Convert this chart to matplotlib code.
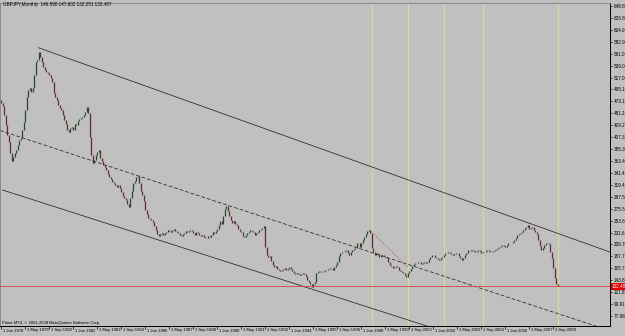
import matplotlib
matplotlib.use('Agg')
import matplotlib.pyplot as plt

plt.rcParams['font.family'] = ['Liberation Sans', 'DejaVu Sans']

#####################################################################
# GBPJPY monthly closes, Jan 1978 .. Dec 2008 (one row per year)
close = [
    470, 465, 448, 430, 411, 398, 378, 363, 371, 378, 384, 393,   # 1978
    402, 406, 420, 435, 457, 481, 494, 498, 490, 498, 522, 546,   # 1979
    549, 564, 555, 546, 536, 531, 527, 525, 522, 516, 509, 489,   # 1980
    481, 476, 466, 461, 457, 448, 439, 432, 420, 417, 424, 426,   # 1981
    420, 432, 430, 437, 441, 443, 444, 448, 454, 463, 452, 408,   # 1982
    375, 360, 365, 375, 380, 384, 369, 363, 356, 352, 347, 339,   # 1983
    334, 330, 325, 323, 319, 315, 319, 314, 306, 299, 295, 292,   # 1984
    284, 279, 295, 308, 323, 327, 334, 336, 323, 308, 301, 290,   # 1985
    273, 265, 258, 256, 255, 251, 243, 236, 229, 225, 229, 231,   # 1986
    227, 230, 233, 236, 234, 232, 236, 238, 235, 233, 230, 228,   # 1987
    226, 229, 231, 234, 232, 235, 237, 234, 230, 228, 232, 230,   # 1988
    227, 225, 228, 224, 221, 222, 226, 224, 228, 232, 230, 234,   # 1989
    238, 245, 252, 248, 262, 275, 280, 272, 262, 255, 250, 252,   # 1990
    248, 246, 238, 235, 232, 226, 224, 228, 230, 233, 236, 234,   # 1991
    232, 228, 230, 233, 236, 238, 240, 244, 205, 190, 186, 188,   # 1992
    180, 172, 168, 170, 165, 162, 160, 163, 165, 166, 162, 165,   # 1993
    168, 164, 160, 158, 156, 158, 155, 154, 156, 158, 155, 152,   # 1994
    145, 140, 136, 132, 137, 141, 157, 159, 161, 159, 159, 161,   # 1995
    163, 163, 164, 166, 166, 163, 168, 172, 177, 188, 194, 196,   # 1996
    196, 198, 200, 194, 190, 196, 200, 201, 203, 212, 212, 205,   # 1997
    212, 218, 223, 229, 234, 236, 231, 203, 196, 190, 194, 192,   # 1998
    187, 188, 190, 188, 187, 185, 177, 172, 170, 166, 168, 170,   # 1999
    168, 163, 161, 159, 157, 153, 150, 157, 161, 164, 170, 174,   # 2000
    176, 176, 177, 177, 174, 176, 177, 176, 177, 183, 187, 190,   # 2001
    190, 187, 185, 183, 181, 185, 187, 190, 194, 194, 196, 194,   # 2002
    192, 190, 192, 194, 194, 188, 185, 181, 185, 190, 194, 200,   # 2003
    200, 198, 200, 198, 196, 198, 200, 198, 194, 196, 196, 198,   # 2004
    200, 198, 196, 196, 198, 200, 201, 203, 205, 207, 209, 207,   # 2005
    205, 209, 212, 212, 212, 214, 218, 221, 227, 229, 231, 232,   # 2006
    236, 240, 242, 245, 238, 240, 242, 236, 232, 229, 218, 207,   # 2007
    200, 203, 209, 212, 212, 210, 196, 185, 166, 148, 137, 132.5, # 2008
]
first_open = 476
bid = 132.487

# time axis labels (month index from Jan 1978)
xtick_pos = [0, 16, 32, 48, 64, 80, 96, 112, 128, 144, 160, 176,
             192, 208, 224, 240, 256, 272, 288, 304, 320, 336, 352, 368]
xtick_labels = ['1 Jan 1978', '1 May 1979', '1 Sep 1980', '1 Jan 1982', '1 May 1983',
                '1 Sep 1984', '1 Jan 1986', '1 May 1987', '1 Sep 1988', '1 Jan 1990',
                '1 May 1991', '1 Sep 1992', '1 Jan 1994', '1 May 1995', '1 Sep 1996',
                '1 Jan 1998', '1 May 1999', '1 Sep 2000', '1 Jan 2002', '1 May 2003',
                '1 Sep 2004', '1 Jan 2006', '1 May 2007', '1 Sep 2008']

# price axis labels
ytick_vals = [648.840, 626.883, 604.926, 582.969, 561.012, 539.055, 517.098,
              495.141, 473.185, 451.228, 429.271, 407.314, 385.357, 363.400,
              341.443, 319.486, 297.529, 275.572, 253.615, 231.658, 209.702,
              187.745, 165.788, 143.831, 121.874, 99.917, 77.960]

# drawn objects: (month, price) anchors
upper_line = [(25, 572), (351, 250)]
mid_line = [(0, 419), (344, 107)]
low_line = [(1, 310), (228, 109)]
red_dots = [(246, 236), (271, 168)]
yellow_months = [247, 271, 295, 321, 371]

#####################################################################
BG = '#c0c0c0'
W, H = 625, 336
fig = plt.figure(figsize=(W / 100, H / 100), dpi=100, facecolor=BG)
ax = fig.add_axes([0, (H - 326) / H, 610 / W, 323 / H])
ax.set_facecolor(BG)
x_left, x_right = -0.667, 406
ax.set_xlim(x_left, x_right)
ax.set_ylim(59.5, 654.4)

# candles
opens = [first_open] + close[:-1]
for m, (o, c) in enumerate(zip(opens, close)):
    col = '#234a2a' if c >= o else '#5e2c2c'
    ax.vlines(m, min(o, c), max(o, c), colors=col, linewidth=0.9)

# yellow vertical lines
for m in yellow_months:
    ax.axvline(m, color='#dcd69c', linewidth=0.8, zorder=0)

# channel lines
def ray(pts, extend_left=False):
    (x0, y0), (x1, y1) = pts
    k = (y1 - y0) / (x1 - x0)
    xa = x_left if extend_left else x0
    return [xa, x_right], [y0 + k * (xa - x0), y0 + k * (x_right - x0)]

xs, ys = ray(upper_line)
ax.plot(xs, ys, color='#262626', linewidth=0.55)
xs, ys = ray(mid_line, extend_left=True)
ax.plot(xs, ys, color='#262626', linewidth=0.55, linestyle=(0, (5, 2.5)))
xs, ys = ray(low_line)
ax.plot(xs, ys, color='#262626', linewidth=0.55)
ax.plot([p[0] for p in red_dots], [p[1] for p in red_dots],
        color='#c04040', linewidth=0.6, linestyle=(0, (1, 1.5)))

# bid line
ax.axhline(bid, color='#d84040', linewidth=0.6)

# axes styling
for s in ['top', 'left']:
    ax.spines[s].set_color('#808080')
    ax.spines[s].set_linewidth(0.6)
for s in ['right', 'bottom']:
    ax.spines[s].set_color('black')
    ax.spines[s].set_linewidth(0.7)

ax.yaxis.tick_right()
ax.set_yticks(ytick_vals)
ax.set_yticklabels(['%.3f' % v for v in ytick_vals])
ax.tick_params(axis='y', length=1.5, width=0.5, pad=1, labelsize=3.3, colors='black')
ax.set_xticks(xtick_pos)
ax.set_xticklabels([])
ax.tick_params(axis='x', length=2, width=0.5, colors='black')
for m, lab in zip(xtick_pos, xtick_labels):
    ax.annotate(lab, xy=(m, 0), xycoords=('data', 'axes fraction'),
                xytext=(1.5, -2.5), textcoords='offset pixels',
                ha='left', va='top', fontsize=3.0)

# current price label
ax.annotate('%.3f' % bid, xy=(1, bid), xycoords=('axes fraction', 'data'),
            xytext=(2, 0), textcoords='offset pixels', ha='left', va='center',
            fontsize=3.3, color='white',
            bbox=dict(boxstyle='square,pad=0.2', fc='#e00000', ec='none'),
            annotation_clip=False)

fig.text(3 / W, 1 - 4.5 / H, 'GBPJPY,Monthly  146.590 147.602 132.251 132.487',
         fontsize=3.3, va='center', ha='left')
fig.text(2 / W, 1 - 323 / H, 'Prime MT4, \u00a9 2001-2008 MetaQuotes Software Corp.',
         fontsize=3.0, va='center', ha='left')

fig.savefig('out.png', dpi=100, facecolor=BG)
